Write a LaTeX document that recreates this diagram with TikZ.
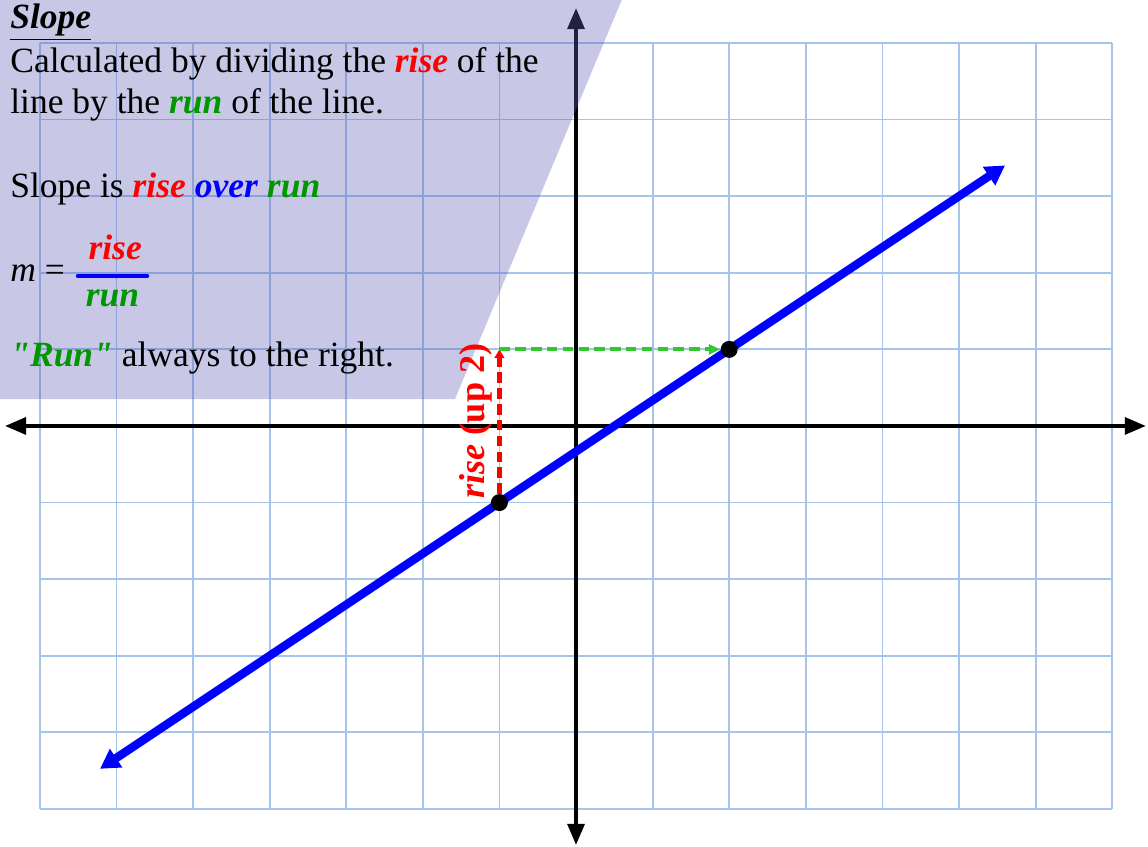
\documentclass[tikz,border=0pt]{standalone}
\usepackage{fontspec}
\setmainfont{Liberation Serif}
\usepackage{tikz}
\usetikzlibrary{arrows.meta, positioning}
\definecolor{gridblue}{RGB}{164,196,236}
\definecolor{shadeblue}{RGB}{98,98,184}
\definecolor{rungreen}{RGB}{0,150,0}
\definecolor{dashgreen}{RGB}{50,200,50}
\newcommand{\kw}[2]{\textcolor{#1}{\textbf{\textit{#2}}}}
\newcommand{\dq}{\XeTeXglyph\XeTeXcharglyph"22\relax}

\begin{document}
\begin{tikzpicture}[
    x=1.532cm, y=1.532cm,
    txt/.style={anchor=base west, inner sep=0pt, font=\fontsize{20.2}{24}\selectfont},
    frac/.style={inner sep=0pt, font=\fontsize{20.2}{24}\selectfont\bfseries\itshape},
    gridline/.style={draw=gridblue, line width=1pt},
    axis/.style={draw, line width=2.3pt, {Triangle[length=12pt, width=9.5pt]}-{Triangle[length=12pt, width=9.5pt]}},
    dot/.style={circle, fill=black, inner sep=0pt, minimum size=0.34cm}
]
    \useasboundingbox (-7.52,-5.496) rectangle (7.467,5.561);

    % 方眼と座標軸
    \path[gridline] (-7,-5) grid[step=1] (7,5);
    \path[axis] (-7.455,0) -- (7.44,0);
    \path[axis] (0,-5.47) -- (0,5.457);

    % 説明の背景
    \fill[shadeblue, opacity=0.35] (-7.52,5.561) -- (0.597,5.561) -- (-1.580,0.352) -- (-7.52,0.352) -- cycle;

    % 直線と2点
    \coordinate (lineS) at (-6.214,-4.476);
    \coordinate (lineE) at (5.601,3.401);
    \path[draw=blue, line width=4.8pt, {Triangle[length=11pt, width=12pt]}-{Triangle[length=11pt, width=12pt]}] (lineS) -- (lineE);
    \node[dot] (ptA) at (-1,-1) {};
    \node[dot] (ptB) at (2,1) {};
    \coordinate (corner) at (-1,1);

    \path[draw=red, line width=2.4pt, dash pattern=on 6pt off 3pt, -{Triangle[length=5pt, width=5.5pt]}] (ptA) -- (corner);
    \path[draw=dashgreen, line width=2.4pt, dash pattern=on 6pt off 3pt, -{Triangle[length=6.5pt, width=5.5pt]}] (corner) -- (ptB);
    \node[rotate=90, inner sep=0pt, text=red, font=\fontsize{20.6}{24}\selectfont\bfseries] (riselabel) at (-1.305,0.065) {\textit{rise} (up 2)};

    % 説明文
    \node[txt] (title) at (-7.389,5.183) {\underline{\textbf{\textit{Slope}}}};
    \node[txt] (line1) at (-7.389,4.621) {Calculated by dividing the \kw{red}{rise} of the};
    \node[txt] (line2) at (-7.389,4.073) {line by the \kw{rungreen}{run} of the line.};
    \node[txt] (line3) at (-7.389,2.977) {Slope is \kw{red}{rise} \kw{blue}{over} \kw{rungreen}{run}};
    \node[txt] (meq) at (-7.389,1.880) {\textit{m} =};
    \coordinate (barL) at (-6.501,1.958);
    \coordinate (barR) at (-5.601,1.958);
    \coordinate (barM) at (-6.051,1.958);
    \path[draw=blue, line width=2.6pt, line cap=round] (barL) -- (barR);
    \node[frac, text=red, above=0.32cm of barM, xshift=1.5pt] (fracrise) {rise};
    \node[frac, text=rungreen, below=0.27cm of barM] (fracrun) {run};
    \node[txt] (line4) at (-7.389,0.770) {\kw{rungreen}{\dq Run\dq} always to the right.};
\end{tikzpicture}
\end{document}
